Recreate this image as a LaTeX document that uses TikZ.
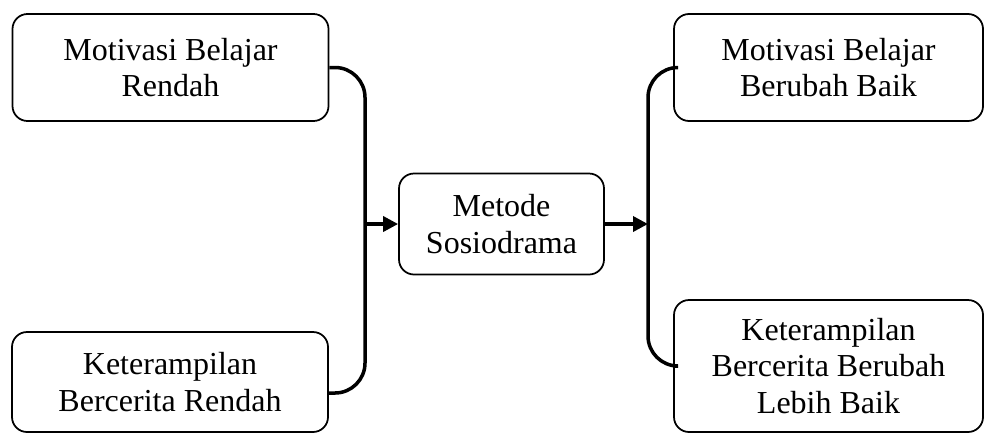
\documentclass[tikz,border=0pt]{standalone}
\usepackage{fontspec}
\setmainfont{Liberation Serif}
\usetikzlibrary{arrows.meta}
\begin{document}
\begin{tikzpicture}[x=0.4pt,y=-0.4pt,
   box/.style={draw,line width=0.7pt,rounded corners=6pt,align=center,
     inner sep=0pt,font=\fontsize{12.8}{14.6}\selectfont},
   link/.style={line width=1.4pt,rounded corners=12pt},
   flow/.style={line width=1.4pt,-{Triangle[length=6pt,width=6pt]}}]
   \useasboundingbox (0,0) rectangle (984,434);
   \node[box,minimum width=126.4pt,minimum height=42.8pt] (mbr) at (170.5,67.5)
     {Motivasi Belajar\\Rendah};
   \node[box,minimum width=126.4pt,minimum height=40pt] (kbr) at (170,382)
     {Keterampilan\\Bercerita Rendah};
   \node[box,minimum width=82pt,minimum height=40.4pt] (ms) at (501.5,224)
     {Metode\\Sosiodrama};
   \node[box,minimum width=123.6pt,minimum height=42.8pt] (mbb) at (828.5,67.5)
     {Motivasi Belajar\\Berubah Baik};
   \node[box,minimum width=123.6pt,minimum height=52.8pt] (kbb) at (828.5,366)
     {Keterampilan\\Bercerita Berubah\\Lebih Baik};
   \coordinate (lbus) at (365,393);
   \coordinate (rbus) at (648,67.5);
   \draw[link] (mbr.east) -| (lbus) -- (kbr.east |- lbus);
   \draw[link] (mbb.west) -| (rbus |- kbb.west) -- (kbb.west);
   \draw[flow] (lbus |- ms.west) -- (ms.west);
   \draw[flow] (ms.east) -- (rbus |- ms.east);
\end{tikzpicture}
\end{document}
